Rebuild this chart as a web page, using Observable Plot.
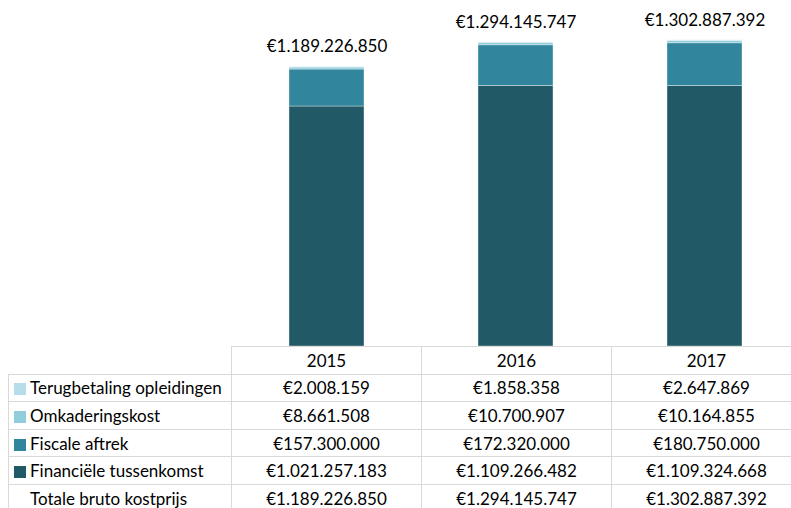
<!DOCTYPE html>
<html><head><meta charset="utf-8">
<script src="https://cdn.jsdelivr.net/npm/d3@7"></script>
<script src="https://cdn.jsdelivr.net/npm/@observablehq/plot@0.6"></script>
<style>
html,body{margin:0;padding:0;background:#fff;width:791px;height:508px;overflow:hidden;font-family:Lato, "Open Sans", sans-serif;}
#wrap{position:relative;width:791px;height:508px;overflow:hidden;}
#chart{position:absolute;left:0;top:0;}
#tbl{position:absolute;left:8px;top:346px;width:793px;border-collapse:collapse;table-layout:fixed;font-size:17px;color:#000;}
#tbl td{border:1px solid #d9d9d9;height:27.6px;padding:0;text-align:center;box-sizing:border-box;white-space:nowrap;overflow:hidden;}
#tbl td.lg{text-align:left;padding-left:5px;}
#tbl td.empty{border:none;}
.sw{display:inline-block;width:12px;height:12px;margin-right:4px;vertical-align:-1px;}
.nosw{display:inline-block;width:12px;height:12px;margin-right:4px;}
</style>
</head><body>
<div id="wrap"><div id="chart"></div></div>
<script>
const years = ["2015", "2016", "2017"];
const series = ["Financiële tussenkomst", "Fiscale aftrek", "Omkaderingskost", "Terugbetaling opleidingen"];
const colors = ["#215967", "#31859c", "#92cddc", "#b7dee8"];
const financieleTussenkomst = [1021257183, 1109266482, 1109324668];
const fiscaleAftrek = [157300000, 172320000, 180750000];
const omkaderingskost = [8661508, 10700907, 10164855];
const terugbetalingOpleidingen = [2008159, 1858358, 2647869];
const totaleBrutoKostprijs = [1189226850, 1294145747, 1302887392];
const totalLabel = "Totale bruto kostprijs";
const tableOrder = ["Terugbetaling opleidingen", "Omkaderingskost", "Fiscale aftrek", "Financiële tussenkomst"];

const valuesBySeries = {
  "Financiële tussenkomst": financieleTussenkomst,
  "Fiscale aftrek": fiscaleAftrek,
  "Omkaderingskost": omkaderingskost,
  "Terugbetaling opleidingen": terugbetalingOpleidingen
};

const data = [];
series.forEach(s => years.forEach((y, i) => data.push({year: y, series: s, value: valuesBySeries[s][i]})));
const totals = years.map((y, i) => ({year: y, total: totaleBrutoKostprijs[i]}));

const nl = d3.formatLocale({decimal: ",", thousands: ".", grouping: [3], currency: ["€", ""]});
const fmt = nl.format("$,d");

const chart = Plot.plot({
  width: 791,
  height: 346,
  marginTop: 17,
  marginBottom: 0,
  marginLeft: 231,
  marginRight: 0,
  style: {fontFamily: "Lato, 'Open Sans', sans-serif", fontSize: "17px", color: "#000", overflow: "visible"},
  x: {domain: years, range: [231, 800], paddingInner: 0.6046, paddingOuter: 0.3023, axis: null},
  y: {domain: [0, 1.4e9], axis: null},
  color: {domain: series, range: colors},
  marks: [
    Plot.barY(data, {x: "year", y: "value", fill: "series", stroke: "#ffffff", strokeWidth: 0.6, strokeOpacity: 0.6, order: series}),
    Plot.text(totals, {x: "year", y: "total", text: d => fmt(d.total), dy: -20, fill: "#000", fontSize: 17})
  ]
});
document.getElementById("chart").appendChild(chart);

// data table
const tbl = document.createElement("table");
tbl.id = "tbl";
const cg = document.createElement("colgroup");
[223, 190, 190, 190].forEach(w => { const c = document.createElement("col"); c.style.width = w + "px"; cg.appendChild(c); });
tbl.appendChild(cg);
const hr = document.createElement("tr");
const e = document.createElement("td"); e.className = "empty"; hr.appendChild(e);
years.forEach(y => { const td = document.createElement("td"); td.textContent = y; hr.appendChild(td); });
tbl.appendChild(hr);
const colorOf = s => colors[series.indexOf(s)];
tableOrder.forEach(s => {
  const tr = document.createElement("tr");
  const td = document.createElement("td"); td.className = "lg";
  const sw = document.createElement("span"); sw.className = "sw"; sw.style.background = colorOf(s);
  td.appendChild(sw); td.appendChild(document.createTextNode(s));
  tr.appendChild(td);
  valuesBySeries[s].forEach(v => { const c = document.createElement("td"); c.textContent = fmt(v); tr.appendChild(c); });
  tbl.appendChild(tr);
});
const trT = document.createElement("tr");
const tdT = document.createElement("td"); tdT.className = "lg";
const ns = document.createElement("span"); ns.className = "nosw"; tdT.appendChild(ns);
tdT.appendChild(document.createTextNode(totalLabel));
trT.appendChild(tdT);
totaleBrutoKostprijs.forEach(v => { const c = document.createElement("td"); c.textContent = fmt(v); trT.appendChild(c); });
tbl.appendChild(trT);
document.getElementById("wrap").appendChild(tbl);
</script>
</body></html>
